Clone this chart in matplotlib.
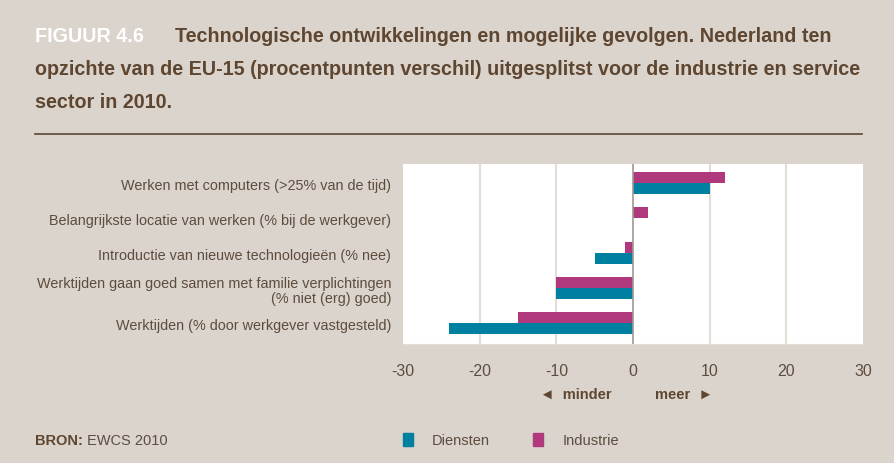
import numpy as np
import matplotlib.pyplot as plt
from matplotlib.patches import Rectangle

categorieen = ["Werken met computers (>25% van de tijd)",
               "Belangrijkste locatie van werken (% bij de werkgever)",
               "Introductie van nieuwe technologieën (% nee)",
               "Werktijden gaan goed samen met familie verplichtingen\n(% niet (erg) goed)",
               "Werktijden (% door werkgever vastgesteld)"]
diensten = [10, 0, -5, -10, -24]
industrie = [12, 2, -1, -10, -15]
ticks = [-30, -20, -10, 0, 10, 20, 30]

bg = '#dbd4cd'
bruin = '#5e4630'
tekst = '#5c4d3e'
blauw = '#0080a0'
paars = '#b0397d'

plt.rcParams['font.family'] = ['Liberation Sans', 'DejaVu Sans']

fig = plt.figure(figsize=(8.94, 4.64), dpi=100, facecolor=bg)
W, H = 894, 464

# titel
fig.text(35/W, 1-42/H, "FIGUUR 4.6", color='white', fontsize=13, fontweight='bold', va='baseline')
t1 = fig.text(175/W, 1-42/H, "Technologische ontwikkelingen en mogelijke gevolgen. Nederland ten",
              color=bruin, fontsize=13, fontweight='bold', va='baseline')
t2 = fig.text(35/W, 1-75/H, "opzichte van de EU-15 (procentpunten verschil) uitgesplitst voor de industrie en service",
              color=bruin, fontsize=13, fontweight='bold', va='baseline')
t3 = fig.text(35/W, 1-108/H, "sector in 2010.", color=bruin, fontsize=13, fontweight='bold', va='baseline')
fig.add_artist(plt.Line2D([35/W, 862/W], [1-135/H, 1-135/H], color=bruin, lw=1.2, transform=fig.transFigure))

ax = fig.add_axes([403/W, 1-345/H, 460/W, 180/H])
ax.set_facecolor('white')
y = np.arange(len(categorieen))
h = 0.31
ax.barh(y + h/2, diensten, height=h, color=blauw, zorder=3)
ax.barh(y - h/2, industrie, height=h, color=paars, zorder=3)
ax.set_xlim(-30, 30)
ax.set_ylim(4.6, -0.55)
ax.set_xticks(ticks)
ax.set_xticklabels([str(t) for t in ticks], color=tekst, fontsize=11.5)
for t in ticks:
    if t == 0:
        ax.axvline(0, color='#a09890', lw=1.2, zorder=4)
    elif abs(t) < 30:
        ax.axvline(t, color='#e3ddd6', lw=1.5, zorder=1)
ax.set_yticks(y)
ax.set_yticklabels(categorieen, color=tekst, fontsize=10.4, linespacing=1.15)
ax.tick_params(length=0, pad=8.5)
ax.tick_params(axis='x', pad=14)
for s in ax.spines.values():
    s.set_visible(False)
ax.spines['bottom'].set_visible(True)
ax.spines['bottom'].set_color('#e3ddd6')

# minder / meer
fig.text(612/W, 1-395/H, "◄  minder", color=bruin, fontsize=10.5, fontweight='bold', ha='right', va='center')
fig.text(655/W, 1-395/H, "meer  ►", color=bruin, fontsize=10.5, fontweight='bold', ha='left', va='center')

# bron en legenda
bron = fig.text(35/W, 1-441/H, "BRON:", color=bruin, fontsize=10.5, fontweight='bold', va='center')
fig.add_artist(Rectangle((403/W, 1-447/H), 10/W, 13/H, color=blauw, transform=fig.transFigure))
fig.text(432/W, 1-441/H, "Diensten", color=tekst, fontsize=10.5, va='center')
fig.add_artist(Rectangle((533/W, 1-447/H), 10/W, 13/H, color=paars, transform=fig.transFigure))
fig.text(563/W, 1-441/H, "Industrie", color=tekst, fontsize=10.5, va='center')

# titelgrootte laten passen op de breedte van het origineel
fig.canvas.draw()
r = fig.canvas.get_renderer()
b = t1.get_window_extent(r)
fs = 13 * 655 / b.width
for t in fig.texts[:4]:
    t.set_fontsize(fs)
fig.canvas.draw()
bb = bron.get_window_extent(r)
fig.text(bb.x1/W + 4/W, 1-441/H, "EWCS 2010", color=tekst, fontsize=10.5, va='center')

fig.savefig('out.png', dpi=100, facecolor=bg)
